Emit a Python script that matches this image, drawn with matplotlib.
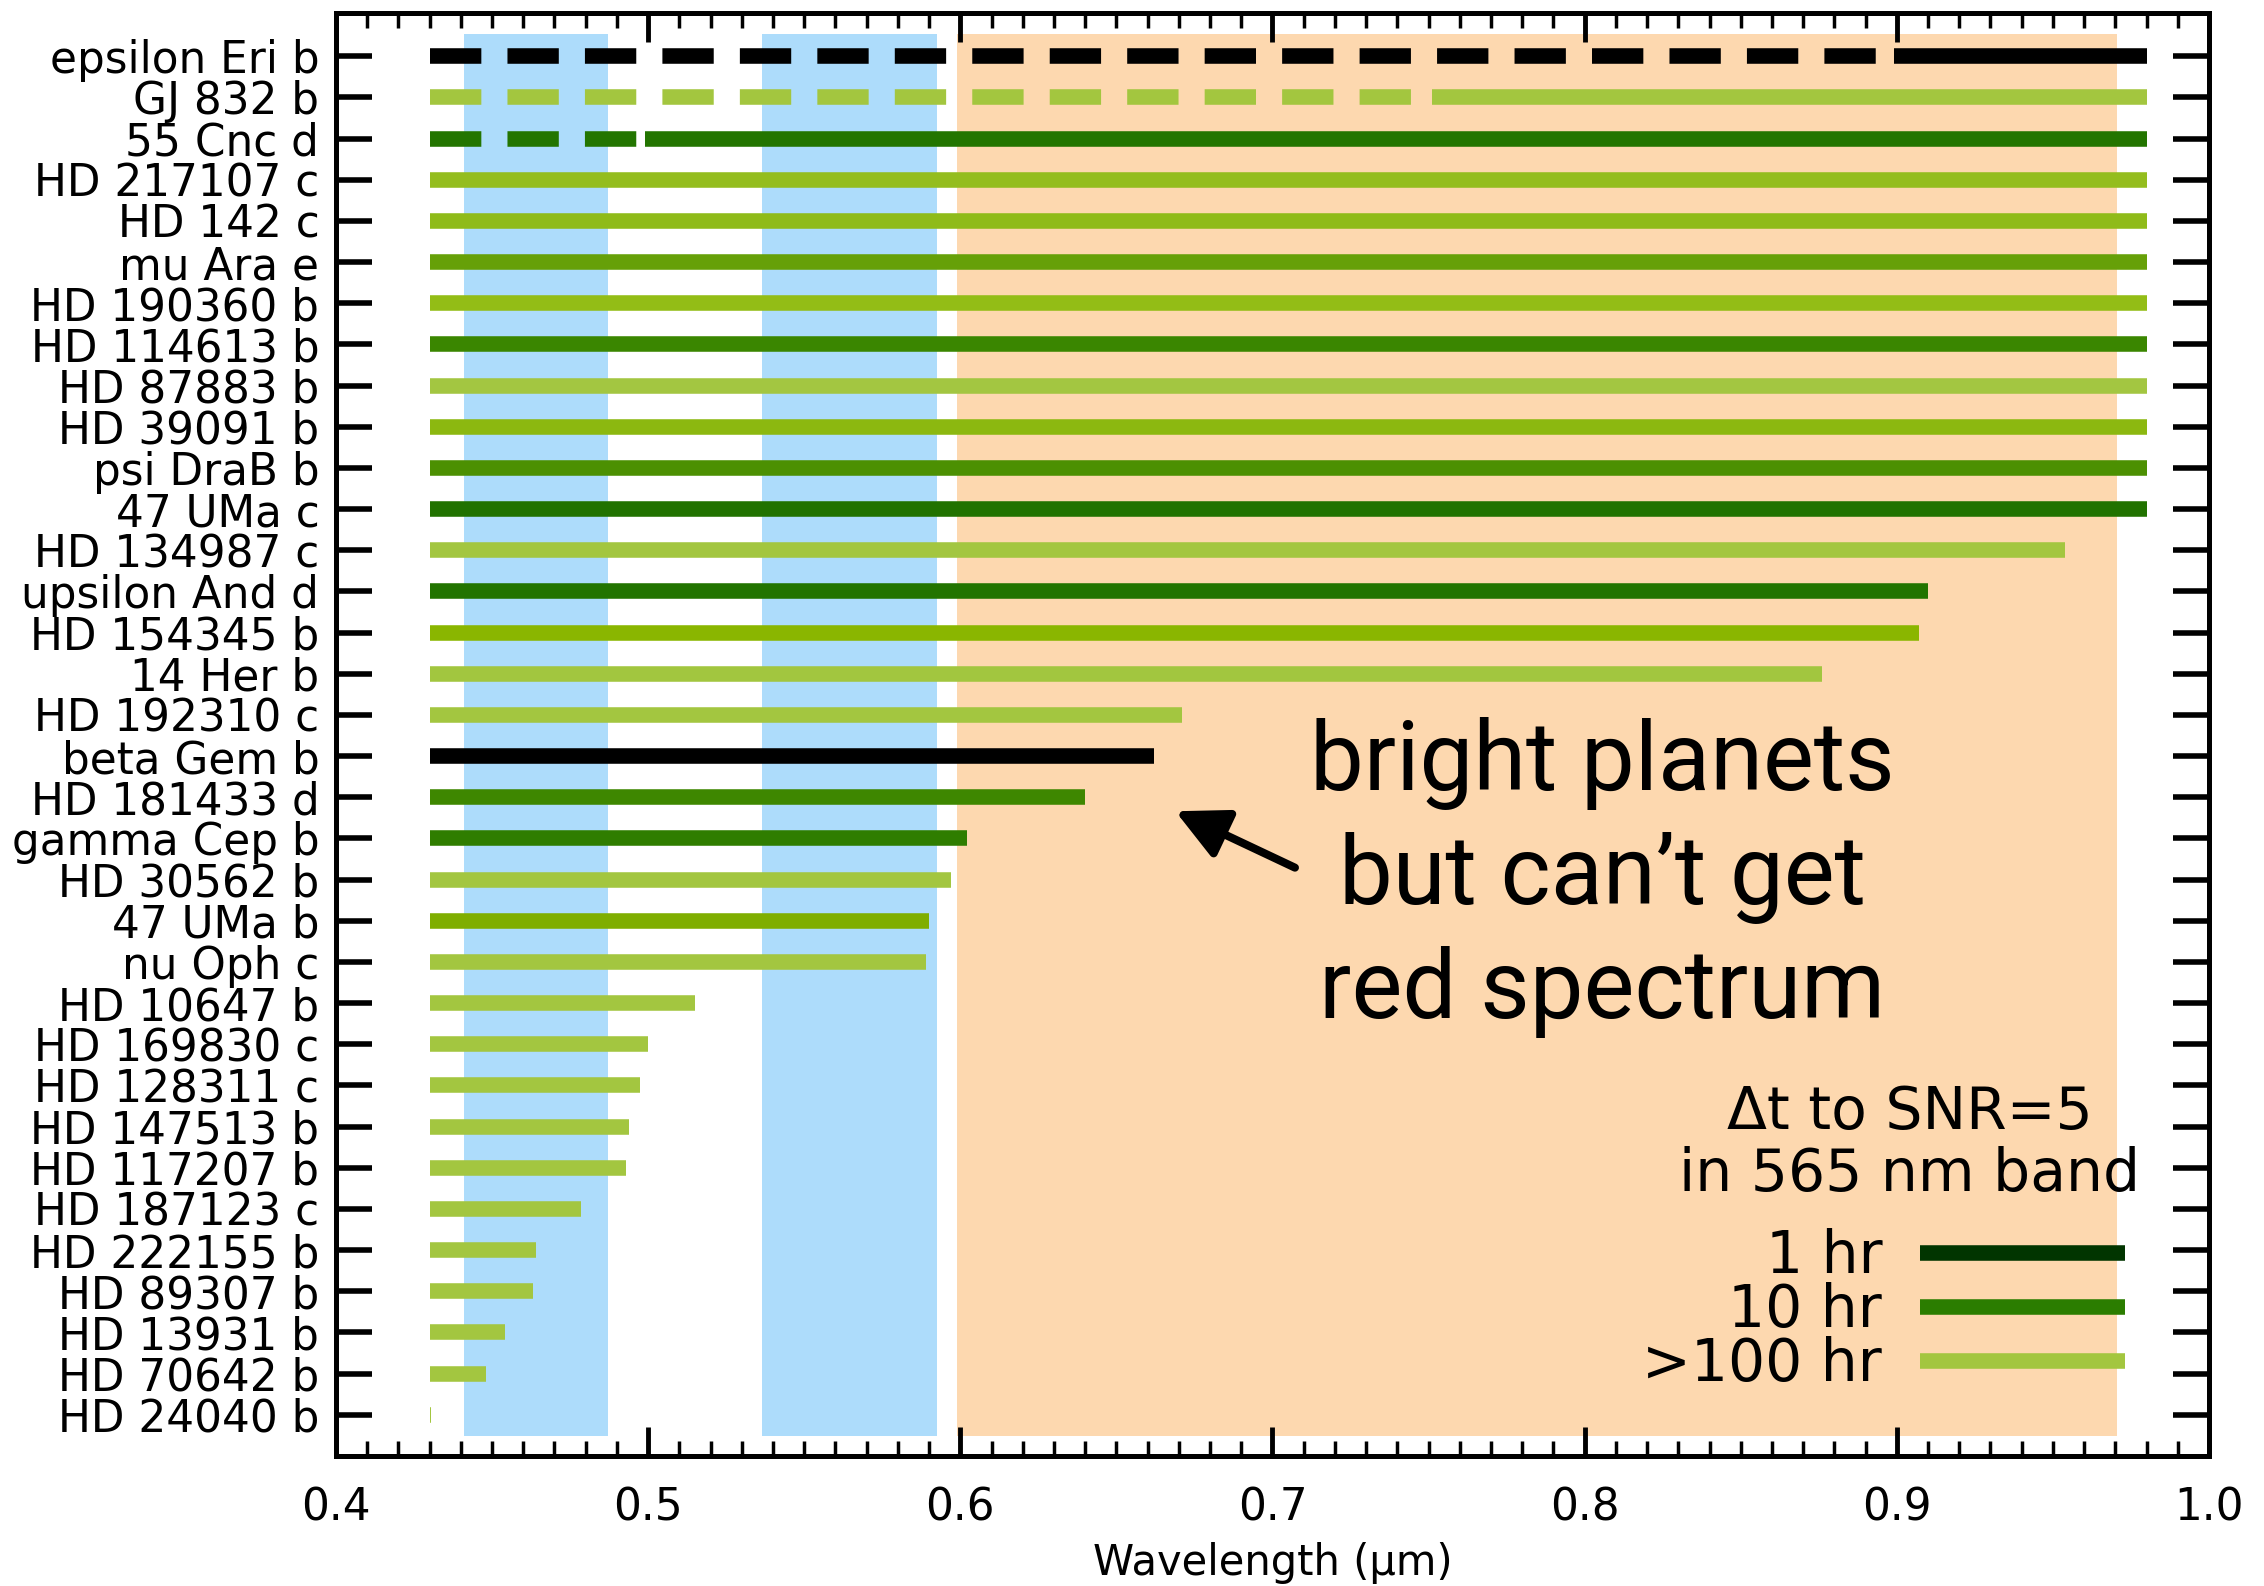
import matplotlib
matplotlib.use('Agg')
import matplotlib.pyplot as plt
from matplotlib.ticker import MultipleLocator, FormatStrFormatter

# planets, top to bottom, with the red end of their reachable spectrum (micron)
planets = ['epsilon Eri b', 'GJ 832 b', '55 Cnc d', 'HD 217107 c', 'HD 142 c',
           'mu Ara e', 'HD 190360 b', 'HD 114613 b', 'HD 87883 b', 'HD 39091 b',
           'psi DraB b', '47 UMa c', 'HD 134987 c', 'upsilon And d', 'HD 154345 b',
           '14 Her b', 'HD 192310 c', 'beta Gem b', 'HD 181433 d', 'gamma Cep b',
           'HD 30562 b', '47 UMa b', 'nu Oph c', 'HD 10647 b', 'HD 169830 c',
           'HD 128311 c', 'HD 147513 b', 'HD 117207 b', 'HD 187123 c', 'HD 222155 b',
           'HD 89307 b', 'HD 13931 b', 'HD 70642 b', 'HD 24040 b']
red_edge = [0.98, 0.98, 0.98, 0.98, 0.98, 0.98, 0.98, 0.98, 0.98, 0.98,
            0.98, 0.98, 0.954, 0.910, 0.907, 0.876, 0.671, 0.662, 0.640, 0.602,
            0.597, 0.590, 0.589, 0.515, 0.500, 0.4975, 0.494, 0.493, 0.4785, 0.464,
            0.463, 0.454, 0.448, 0.4305]
blue_edge = 0.43
# colour = integration time to SNR=5
colors = ['#000000', '#a3c63f', '#237500', '#94bd1e', '#8fbb19',
          '#66a008', '#93bd16', '#3a8600', '#a3c641', '#8cb810',
          '#4c9002', '#217200', '#a3c640', '#227400', '#8ab600',
          '#a2c63f', '#a3c640', '#000000', '#3e8700', '#2f7d00',
          '#a3c640', '#7fae00', '#a3c640', '#a3c640', '#a3c640',
          '#a3c640', '#a3c640', '#a3c640', '#a3c640', '#a3c640',
          '#a3c640', '#a3c640', '#a3c640', '#a3c640']
# dashed part of the line runs from blue_edge up to here
dash_stop = {'epsilon Eri b': 0.899, 'GJ 832 b': 0.751, '55 Cnc d': 0.499}

blue_bands = [(0.441, 0.487), (0.5365, 0.5925)]
red_band = (0.599, 0.9705)

key_labels = ['1 hr', '10 hr', '>100 hr']
key_colors = ['#013500', '#2b7d00', '#a3c63f']

note_lines = ['bright planets', 'but can\u2019t get', 'red spectrum']

LW = 11.2

fig = plt.figure(figsize=(22.64, 15.86), dpi=100)
ax = fig.add_axes([0.1484, 0.082, 0.8273, 0.9098])

band_top, band_bot = -0.53, 33.52
for lo, hi in blue_bands:
    ax.fill_betweenx([band_top, band_bot], lo, hi, color='#addcfb', lw=0, zorder=0)
ax.fill_betweenx([band_top, band_bot], red_band[0], red_band[1],
                 color='#fdd8af', lw=0, zorder=0)

for i, (name, end, c) in enumerate(zip(planets, red_edge, colors)):
    stop = dash_stop.get(name, blue_edge)
    if stop > blue_edge:
        ax.plot([blue_edge, stop], [i, i], color=c, lw=LW,
                dashes=(3.3, 1.68), dash_capstyle='butt')
    ax.plot([stop, end], [i, i], color=c, lw=LW, solid_capstyle='butt')

# time-to-SNR key
ax.text(0.9042, 26.07, '\u0394t to SNR=5', ha='center', va='baseline', fontsize=42)
ax.text(0.9042, 27.56, 'in 565 nm band', ha='center', va='baseline', fontsize=42)
for k, (lab, c) in enumerate(zip(key_labels, key_colors)):
    yk = 29.08 + 1.31 * k
    ax.text(0.8953, yk + 0.48, lab, ha='right', va='baseline', fontsize=42)
    ax.plot([0.9074, 0.9731], [yk, yk], color=c, lw=LW, solid_capstyle='butt')

for k, line in enumerate(note_lines):
    ax.text(0.8056, 17.82 + 2.765 * k, line, ha='center', va='baseline',
            fontsize=69, family='Roboto')
ax.annotate('', xy=(0.6689, 18.34), xytext=(0.7072, 19.71),
            arrowprops=dict(arrowstyle='-|>,head_length=0.33,head_width=0.165',
                            color='black', lw=5.8, mutation_scale=95,
                            shrinkA=0, shrinkB=0))

ax.set_xlim(0.4, 1.0)
ax.set_ylim(34.0, -1.05)
ax.set_yticks(range(len(planets)))
ax.set_yticklabels(planets)
ax.xaxis.set_major_locator(MultipleLocator(0.1))
ax.xaxis.set_minor_locator(MultipleLocator(0.01))
ax.xaxis.set_major_formatter(FormatStrFormatter('%.1f'))

ax.tick_params(axis='y', which='major', direction='in', length=26, width=4,
               left=True, right=True, pad=12, labelsize=31.5)
ax.tick_params(axis='y', which='minor', left=False, right=False)
ax.tick_params(axis='x', which='major', direction='in', length=21, width=3.5,
               top=True, bottom=True, pad=22, labelsize=31.5)
ax.tick_params(axis='x', which='minor', direction='in', length=10.5, width=2.5,
               top=True, bottom=True)
for sp in ax.spines.values():
    sp.set_linewidth(3.6)

ax.set_xlabel('Wavelength (\u03bcm)', fontsize=30, labelpad=9)

fig.savefig('out.png', dpi=100, facecolor='white')
